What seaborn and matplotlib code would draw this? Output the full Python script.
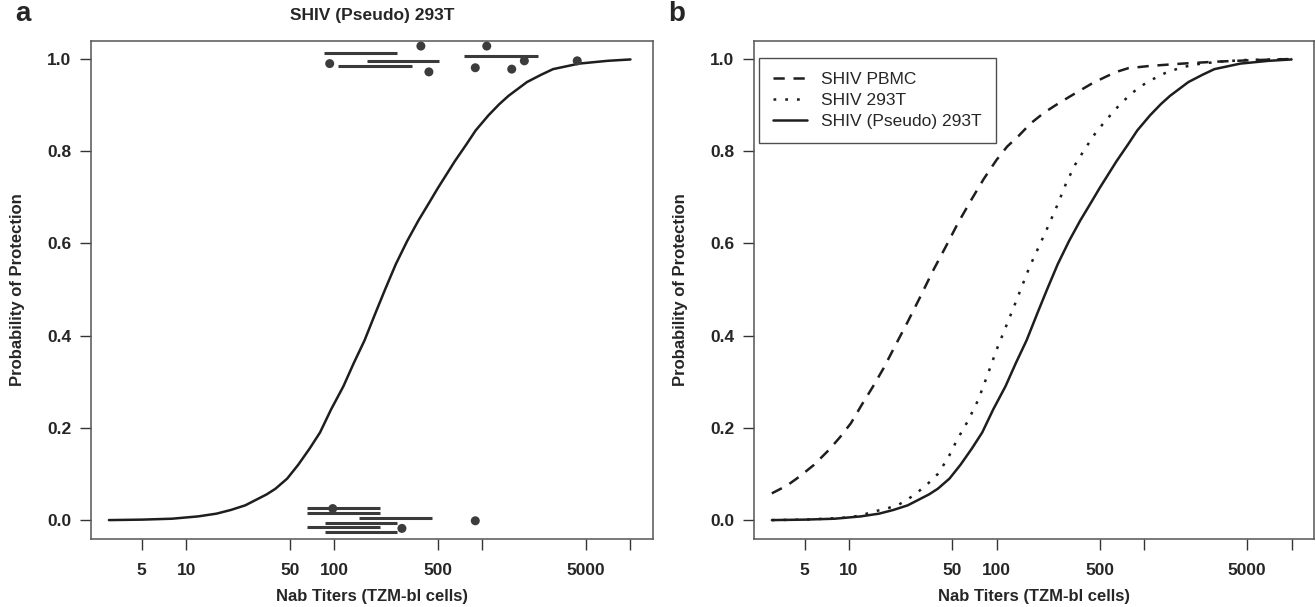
import numpy as np
import pandas as pd
import matplotlib
matplotlib.use("Agg")
import matplotlib.pyplot as plt
import seaborn as sns

# ---------------- data ----------------
pseudo_titer = [3, 5, 8, 12, 16, 20, 25, 30, 35, 40, 48, 57, 68, 80, 95, 115, 135,
                160, 190, 220, 260, 310, 370, 440, 500, 560, 650, 780, 900, 1100,
                1300, 1500, 2000, 2500, 3000, 4500, 7000, 10000]
pseudo_prob = [0.0, 0.001, 0.003, 0.008, 0.014, 0.022, 0.032, 0.045, 0.056, 0.068,
               0.09, 0.12, 0.155, 0.19, 0.24, 0.29, 0.34, 0.39, 0.45, 0.50, 0.555,
               0.605, 0.65, 0.69, 0.72, 0.745, 0.778, 0.815, 0.845, 0.878, 0.902,
               0.92, 0.95, 0.966, 0.978, 0.99, 0.996, 0.999]

t293_titer = [3, 5, 8, 10, 12, 14.5, 18, 21.6, 25, 28.6, 34, 40, 47, 54, 64, 75, 87,
              100, 116, 134, 150, 168, 195, 223, 260, 296, 340, 394, 470, 555, 680,
              826, 1050, 1380, 1800, 2440, 3500, 5000, 10000]
t293_prob = [0.0, 0.001, 0.004, 0.006, 0.01, 0.018, 0.025, 0.033, 0.045, 0.058,
             0.078, 0.10, 0.135, 0.174, 0.215, 0.26, 0.315, 0.369, 0.42, 0.47, 0.51,
             0.55, 0.595, 0.636, 0.685, 0.73, 0.77, 0.803, 0.84, 0.868, 0.90, 0.926,
             0.95, 0.969, 0.982, 0.99, 0.995, 0.998, 1.0]

pbmc_titer = [3, 3.8, 4.6, 5.8, 7.3, 8.7, 10.3, 12.2, 14.5, 17.2, 20.4, 25, 30.4, 37,
              45.3, 55, 67.3, 82, 100, 118, 141, 170, 211, 270, 352, 450, 555, 650,
              781, 1100, 1820, 3000, 5000, 10000]
pbmc_prob = [0.058, 0.075, 0.094, 0.12, 0.152, 0.18, 0.21, 0.25, 0.289, 0.33, 0.376,
             0.43, 0.484, 0.54, 0.593, 0.645, 0.694, 0.74, 0.781, 0.81, 0.833, 0.86,
             0.884, 0.906, 0.928, 0.948, 0.962, 0.972, 0.98, 0.985, 0.99, 0.994,
             0.997, 1.0]

# observed animals (panel a): points and interval segments
dot_titer = [384, 1070, 93, 435, 895, 1578, 1920, 4370, 97.5, 895, 286]
dot_prob = [1.028, 1.028, 0.99, 0.972, 0.981, 0.978, 0.996, 0.996, 0.025, -0.0015, -0.018]

seg_lo = [85, 166, 106, 755, 65, 65, 147, 86, 65, 86]
seg_hi = [265, 509, 334, 2370, 202, 202, 455, 265, 202, 265]
seg_prob = [1.0137, 0.9957, 0.9855, 1.0065, 0.0254, 0.0158, 0.0037, -0.0059, -0.0158, -0.0254]

x_ticks = [5, 10, 50, 100, 500, 1000, 5000, 10000]
x_tick_labels = ["5", "10", "50", "100", "500", "", "5000", ""]
y_ticks = [0.0, 0.2, 0.4, 0.6, 0.8, 1.0]

series_names = ["SHIV PBMC", "SHIV 293T", "SHIV (Pseudo) 293T"]

# ---------------- styling ----------------
sns.set_theme(style="ticks")
plt.rcParams["font.family"] = ["Liberation Sans", "DejaVu Sans"]

W, H = 1316, 607
fig = plt.figure(figsize=(W / 100, H / 100), dpi=100)
ax_a = fig.add_axes([91 / W, 68 / H, 562 / W, 498 / H])
ax_b = fig.add_axes([754 / W, 68 / H, 560 / W, 498 / H])

LINE = "#1e1e1e"
LW = 1.8

df_pseudo = pd.DataFrame({"titer": pseudo_titer, "prob": pseudo_prob})
df_293 = pd.DataFrame({"titer": t293_titer, "prob": t293_prob})
df_pbmc = pd.DataFrame({"titer": pbmc_titer, "prob": pbmc_prob})
df_dots = pd.DataFrame({"titer": dot_titer, "prob": dot_prob})

# panel a
sns.lineplot(data=df_pseudo, x="titer", y="prob", ax=ax_a, color=LINE, lw=LW)
ax_a.hlines(seg_prob, seg_lo, seg_hi, colors="#3a3a3a", lw=2.2)
sns.scatterplot(data=df_dots, x="titer", y="prob", ax=ax_a, color="#3c3c3c",
                s=42, edgecolor="none", zorder=5)
ax_a.set_title("SHIV (Pseudo) 293T", fontsize=12.5, fontweight="bold", pad=15)

# panel b
sns.lineplot(data=df_pbmc, x="titer", y="prob", ax=ax_b, color=LINE, lw=LW,
             label=series_names[0])
ax_b.lines[-1].set_dashes((4.5, 3.5))
sns.lineplot(data=df_293, x="titer", y="prob", ax=ax_b, color=LINE, lw=LW,
             label=series_names[1])
ax_b.lines[-1].set_dashes((1.1, 3.6))
sns.lineplot(data=df_pseudo, x="titer", y="prob", ax=ax_b, color=LINE, lw=LW,
             label=series_names[2])

leg = ax_b.legend(loc="upper left", bbox_to_anchor=(0.0085, 0.965), frameon=True,
                  fancybox=False, fontsize=12.5, handlelength=2.0, handletextpad=0.8,
                  borderpad=0.8, labelspacing=0.32, borderaxespad=0.0)
leg.get_frame().set_edgecolor("#222222")
leg.get_frame().set_linewidth(1.0)

for ax in (ax_a, ax_b):
    ax.set_xscale("log")
    ax.set_xlim(2.27, 14200)
    ax.set_ylim(-0.041, 1.039)
    ax.set_xticks(x_ticks)
    ax.set_xticklabels(x_tick_labels)
    ax.xaxis.set_minor_locator(matplotlib.ticker.NullLocator())
    ax.set_yticks(y_ticks)
    ax.set_yticklabels([f"{v:.1f}" for v in y_ticks])
    ax.tick_params(axis="both", length=8, width=1.0, color="#333333",
                   labelsize=12.5, pad=6)
    for lab in ax.get_xticklabels() + ax.get_yticklabels():
        lab.set_fontweight("bold")
    ax.tick_params(axis="x", pad=9)
    for sp in ax.spines.values():
        sp.set_visible(True)
        sp.set_color("#555555")
        sp.set_linewidth(1.1)
    ax.set_xlabel("Nab Titers (TZM-bl cells)", fontsize=12, fontweight="bold", labelpad=8)
    ax.set_ylabel("Probability of Protection", fontsize=12, fontweight="bold", labelpad=16)

fig.text(15 / W, 1 - 14 / H, "a", fontsize=20, fontweight="bold", va="center", ha="left")
fig.text(668 / W, 1 - 14 / H, "b", fontsize=20, fontweight="bold", va="center", ha="left")

fig.savefig("out.png", dpi=100, facecolor="white")
